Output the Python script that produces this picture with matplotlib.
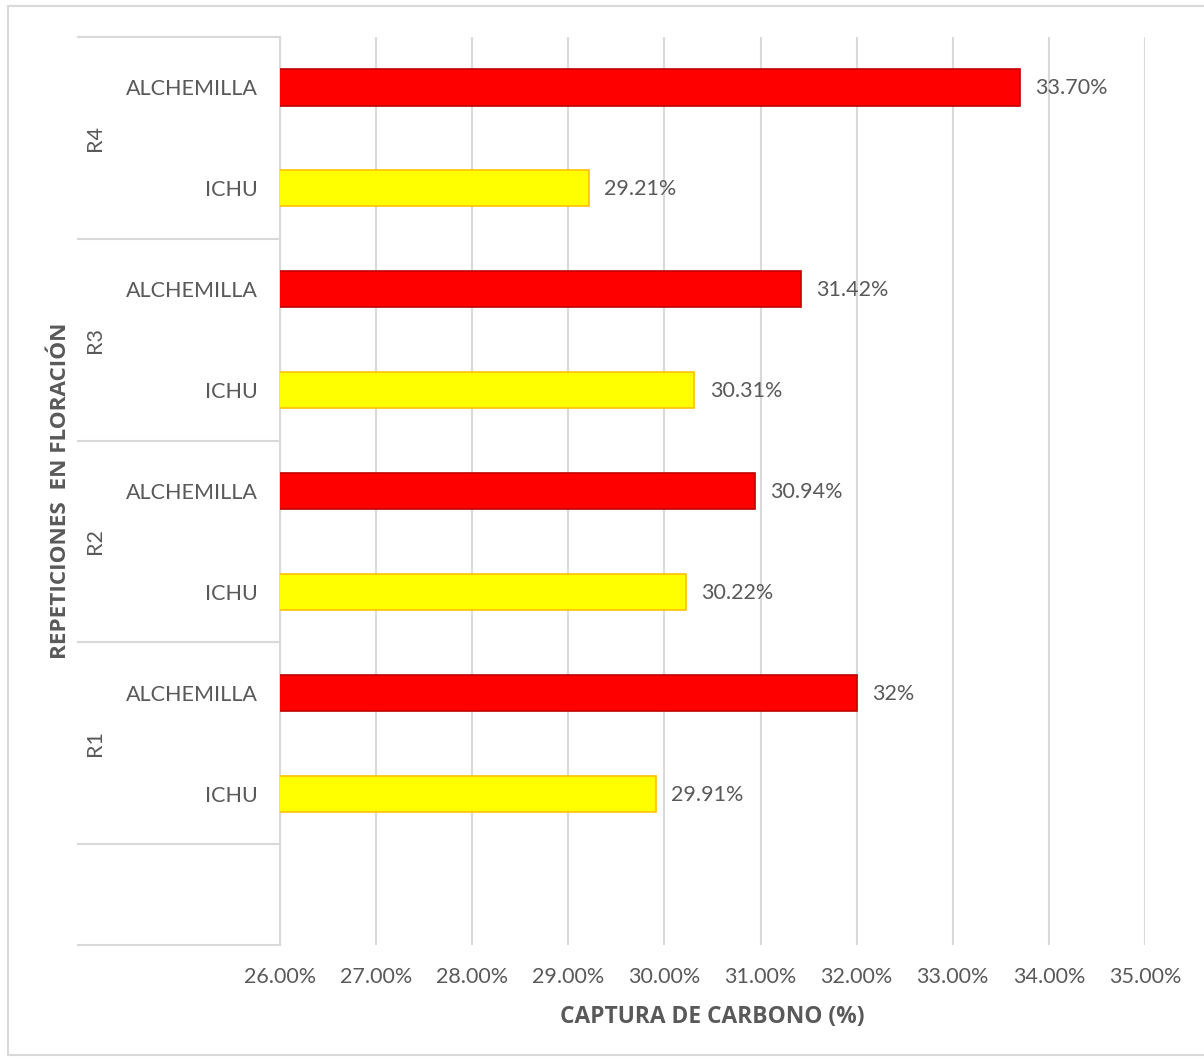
import matplotlib.pyplot as plt
from matplotlib.ticker import FuncFormatter
from matplotlib.lines import Line2D

plt.rcParams['font.family'] = ['Lato', 'DejaVu Sans']

# Carbon capture per repetition (bottom to top)
repeticiones = ["R1", "R2", "R3", "R4"]
especies = ["ICHU", "ALCHEMILLA"]
ichu = [29.91, 30.22, 30.31, 29.21]
alchemilla = [32.00, 30.94, 31.42, 33.70]
etiquetas_ichu = ["29.91%", "30.22%", "30.31%", "29.21%"]
etiquetas_alch = ["32%", "30.94%", "31.42%", "33.70%"]
x_ticks = [26, 27, 28, 29, 30, 31, 32, 33, 34, 35]

TEXT = "#595959"
GRID = "#d9d9d9"
W, H = 1204, 1059

fig = plt.figure(figsize=(W / 100, H / 100), dpi=100)

# outer chart frame (left, top, bottom)
for xs, ys in [([8, 8], [6, 1055]), ([8, W], [6, 6]), ([8, W], [1055, 1055])]:
    fig.add_artist(Line2D([x / W for x in xs], [1 - y / H for y in ys],
                          color=GRID, lw=1.5, transform=fig.transFigure))

left, right, top, bottom = 280, 1145, 37, 945
ax = fig.add_axes([left / W, 1 - bottom / H, (right - left) / W, (bottom - top) / H])

# slot 0 is the empty category at the bottom
pos_ichu = [1 + 2 * i for i in range(len(repeticiones))]
pos_alch = [2 + 2 * i for i in range(len(repeticiones))]
bar_h = 0.36

ax.barh(pos_ichu, ichu, height=bar_h, left=0, color="#ffff00", edgecolor="#ffc000", lw=1.2, zorder=3)
ax.barh(pos_alch, alchemilla, height=bar_h, left=0, color="#ff0000", edgecolor="#c00000", lw=1.2, zorder=3)

for p, v, t in zip(pos_ichu, ichu, etiquetas_ichu):
    ax.text(v + 0.16, p - 0.01, t, va="center", ha="left", fontsize=15.5, color=TEXT)
for p, v, t in zip(pos_alch, alchemilla, etiquetas_alch):
    ax.text(v + 0.16, p - 0.01, t, va="center", ha="left", fontsize=15.5, color=TEXT)

ax.set_xlim(26, 35)
ax.set_ylim(-0.5, 8.5)
ax.set_xticks(x_ticks)
ax.xaxis.set_major_formatter(FuncFormatter(lambda v, _: f"{v:.2f}%"))
ax.tick_params(axis="x", length=0, pad=16, labelsize=15.5, labelcolor=TEXT)
ax.grid(axis="x", color=GRID, lw=1.5, zorder=0)

ax.set_yticks(pos_ichu + pos_alch)
ax.set_yticklabels([especies[0]] * 4 + [especies[1]] * 4)
ax.tick_params(axis="y", length=0, pad=16, labelsize=15.5, labelcolor=TEXT)

for s in ["top", "right", "bottom"]:
    ax.spines[s].set_visible(False)
ax.spines["left"].set_color(GRID)
ax.spines["left"].set_linewidth(1.5)

# multi-level category axis: group separators and group names
x0 = (78 - left) / (right - left)
ytr = ax.get_yaxis_transform()
for yb in [-0.5, 0.5, 2.5, 4.5, 6.5, 8.5]:
    ax.plot([x0, 0], [yb, yb], transform=ytr, color=GRID, lw=1.5, clip_on=False)
xg = (95 - left) / (right - left)
for i, r in enumerate(repeticiones):
    ax.text(xg, 1.5 + 2 * i, r, transform=ytr, rotation=90, ha="center", va="center",
            fontsize=15.5, color=TEXT)

bold = ['Open Sans', 'DejaVu Sans']
fig.text(61 / W, 1 - 491 / H, "REPETICIONES  EN FLORACIÓN", rotation=90, ha="center", va="center",
         fontsize=16.2, fontweight="bold", color=TEXT, family=bold)
fig.text(712 / W, 1 - 1017 / H, "CAPTURA DE CARBONO (%)", ha="center", va="center",
         fontsize=16.4, fontweight="bold", color=TEXT, family=bold)

fig.savefig("out.png", dpi=100)
